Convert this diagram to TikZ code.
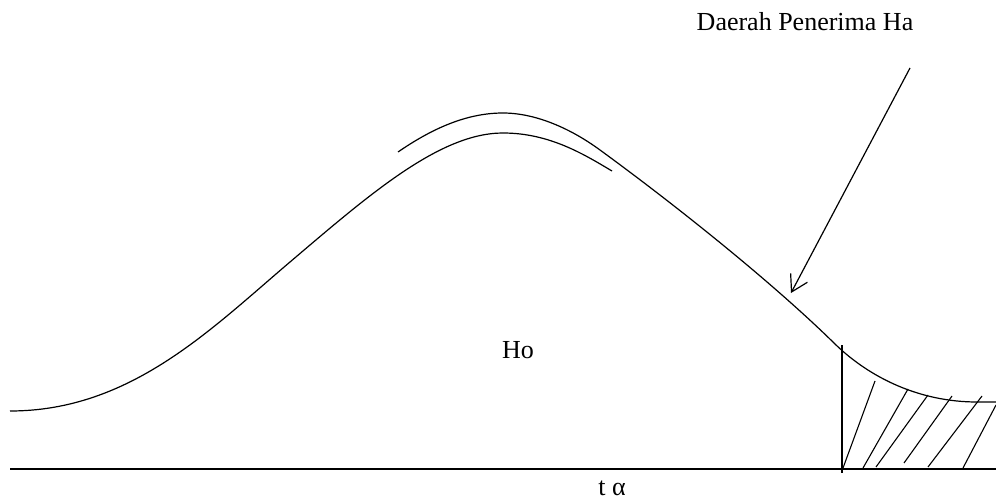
\documentclass[tikz,border=0pt]{standalone}
\usepackage{fontspec}
\setmainfont{Liberation Serif}
\usetikzlibrary{arrows.meta}
\tikzset{
  lbl/.style={font=\fontsize{26}{30}\selectfont, inner sep=0pt, anchor=base},
  curve/.style={line width=1.2pt, black},
  axis/.style={line width=1.2pt, black},
  crit/.style={line width=2.8pt, black},
  hatch/.style={line width=1.1pt, black},
  pointer/.style={line width=1.2pt, black,
                  -{Straight Barb[length=16pt, width=19pt]}},
}

\begin{document}
\begin{tikzpicture}[x=1pt, y=-1pt]
  \useasboundingbox (0,0) rectangle (996,503);
  % labels
  \node[lbl] (region) at (805,31) {Daerah Penerima Ha};
  \node[lbl] (ho) at (518,358) {Ho};
  \node[lbl] (talpha) at (612,495) {t α};
  % curve, drawn in two overlapping pieces
  \draw[curve] (10,411) .. controls (130,411) and (210,330) .. (290,262)
    .. controls (370,194) and (440,133) .. (503,133)
    .. controls (550,133) and (585,155) .. (612,171);
  \draw[curve] (398,152) .. controls (430,130) and (465,113) .. (503,113)
    .. controls (535,113) and (570,128) .. (600,150)
    .. controls (670,201) and (770,280) .. (835,344)
    .. controls (870,378) and (920,402) .. (977,402) -- (996,402);
  % axis and critical value
  \coordinate (ax0) at (10,469);
  \coordinate (ax1) at (996,469);
  \draw[axis] (ax0) -- (ax1);
  \coordinate (c0) at (842,345);
  \coordinate (c1) at (842,473);
  \draw[crit] (c0) -- (c1);
  % hatching
  \draw[hatch] (843,468) -- (875,381);
  \draw[hatch] (863,468) -- (908,389);
  \draw[hatch] (876,467) -- (928,395);
  \draw[hatch] (904,463) -- (952,396);
  \draw[hatch] (928,467) -- (982,396);
  \draw[hatch] (963,468) -- (996,405);
  % pointer to the region
  \coordinate (tail) at (910,68);
  \coordinate (tip) at (791,293);
  \draw[pointer] (tail) -- (tip);
\end{tikzpicture}
\end{document}
